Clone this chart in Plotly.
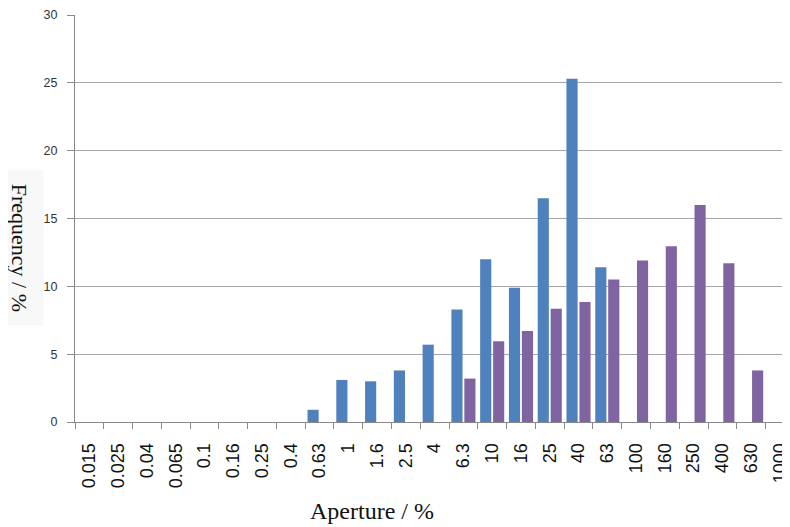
import plotly.graph_objects as go

categories = ["0.015", "0.025", "0.04", "0.065", "0.1", "0.16", "0.25", "0.4", "0.63", "1",
              "1.6", "2.5", "4", "6.3", "10", "16", "25", "40", "63", "100",
              "160", "250", "400", "630", "1000"]
series_a = [0, 0, 0, 0, 0, 0, 0, 0, 0.9, 3.1,
            3.0, 3.8, 5.7, 8.3, 12.0, 9.9, 16.5, 25.3, 11.4, 0,
            0, 0, 0, 0, 0]
series_b = [0, 0, 0, 0, 0, 0, 0, 0, 0, 0,
            0, 0, 0, 3.2, 5.95, 6.7, 8.35, 8.85, 10.5, 11.9,
            12.95, 16.0, 11.7, 3.8, 0]
y_ticks = [0, 5, 10, 15, 20, 25, 30]

fig = go.Figure()
fig.add_trace(go.Bar(x=categories, y=series_a, marker=dict(color="#4f81bd", line=dict(width=0))))
fig.add_trace(go.Bar(x=categories, y=series_b, marker=dict(color="#8064a2", line=dict(width=0))))

# page body has an 8px margin; figure is sized so the plot lands where the reference has it
fig.update_layout(
    width=782, height=519,
    margin=dict(l=67, r=0, t=7, b=105),
    paper_bgcolor="white", plot_bgcolor="white",
    barmode="group", bargap=0.1, bargroupgap=0.14,
    showlegend=False,
    font=dict(family="Liberation Sans, Arial, sans-serif", color="#222"),
)
fig.update_xaxes(
    type="category", range=[-0.5, 24.35], automargin=False,
    tickangle=-90, tickfont=dict(size=18, color="#111"),
    ticks="outside", tickson="boundaries", ticklen=6, tickcolor="#888",
    ticklabelstandoff=13,
    showline=True, linecolor="#888", linewidth=1,
    showgrid=False,
)
fig.update_yaxes(
    range=[0, 30], tickvals=y_ticks, ticktext=[str(v) for v in y_ticks],
    automargin=False,
    tickfont=dict(size=12.5, color="#333"),
    ticks="outside", ticklen=7, tickcolor="#888",
    ticklabelstandoff=7,
    showline=True, linecolor="#888", linewidth=1,
    showgrid=True, gridcolor="#a6a6a6", gridwidth=1,
    zeroline=False,
)
fig.add_annotation(
    text="Frequency / %", textangle=90, xref="paper", yref="paper",
    x=-0.077, y=0.428, xanchor="center", yanchor="middle", showarrow=False,
    font=dict(family="Liberation Serif, Times New Roman, serif", size=22, color="#111"),
    bgcolor="#f8f8f8", width=152, height=44,
)
fig.add_annotation(
    text="Aperture / %", xref="paper", yref="paper",
    x=0.4147, y=-0.2187, xanchor="center", yanchor="middle", showarrow=False,
    font=dict(family="Liberation Serif, Times New Roman, serif", size=24, color="#111"),
)
fig.write_html("out.html")
